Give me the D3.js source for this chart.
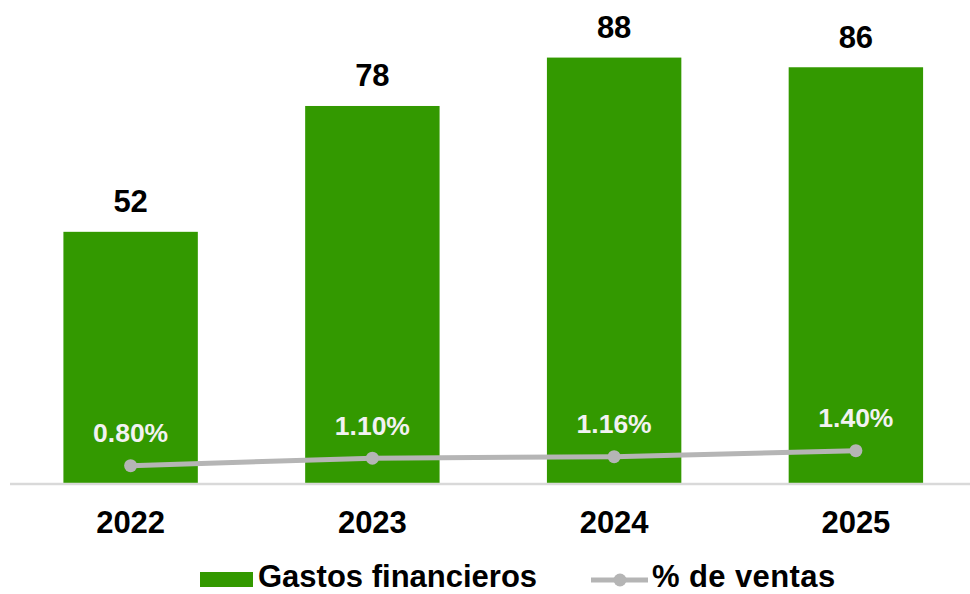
<!DOCTYPE html>
<html>
<head>
<meta charset="utf-8">
<script src="https://cdn.jsdelivr.net/npm/d3@7"></script>
<style>
  body { margin: 0; background: #fff; }
  svg text { font-family: "Liberation Sans", Arial, sans-serif; font-weight: bold; }
</style>
</head>
<body>
<div id="viz"></div>
<script>
// chart data
var years = ["2022", "2023", "2024", "2025"];
var gastos = [52, 78, 88, 86];
var pctVentas = [0.80, 1.10, 1.16, 1.40];
var legendLabels = ["Gastos financieros", "% de ventas"];

var width = 970,
    height = 594,
    baseline = 483.5;

var svg = d3.select("div#viz")
            .append("svg")
            .attr("width", width)
            .attr("height", height);

// x: bands for the years
var xScale = d3.scaleBand()
               .domain(years)
               .range([9.5, 977])
               .paddingInner(0.444)
               .paddingOuter(0.223);

// y for bars and y for the percentage line
var yScale = d3.scaleLinear().domain([0, 100]).range([baseline, baseline - 484]);
var pScale = d3.scaleLinear().domain([0, 10]).range([485.7, 235.7]);

var green = "#339900",
    grey = "#b5b5b5";

// bars
svg.selectAll("rect.bar")
   .data(gastos)
   .enter()
   .append("rect")
   .attr("class", "bar")
   .attr("x", function(d, i) { return xScale(years[i]); })
   .attr("y", function(d) { return yScale(d); })
   .attr("width", xScale.bandwidth())
   .attr("height", function(d) { return baseline - yScale(d); })
   .attr("fill", green);

// bar value labels
svg.selectAll("text.val")
   .data(gastos)
   .enter()
   .append("text")
   .attr("class", "val")
   .attr("x", function(d, i) { return xScale(years[i]) + xScale.bandwidth() / 2; })
   .attr("y", function(d) { return yScale(d) - 19.5; })
   .attr("text-anchor", "middle")
   .attr("font-size", 31)
   .attr("fill", "#000")
   .text(function(d) { return d; });

// x axis
var xAxis = d3.axisBottom(xScale).tickSize(0).tickPadding(0);
var gx = svg.append("g")
            .attr("class", "x axis")
            .attr("transform", "translate(0," + baseline + ")")
            .call(xAxis);
gx.select(".domain").attr("stroke", "#d9d9d9").attr("stroke-width", 2.5);
gx.selectAll("text")
  .attr("font-size", 31)
  .attr("font-family", "'Liberation Sans', Arial, sans-serif")
  .attr("fill", "#000")
  .attr("dy", null)
  .attr("y", 49.5);

// percentage line
var cx = function(d, i) { return xScale(years[i]) + xScale.bandwidth() / 2; };
var line = d3.line()
             .x(cx)
             .y(function(d) { return pScale(d); });

svg.append("path")
   .datum(pctVentas)
   .attr("d", line)
   .attr("fill", "none")
   .attr("stroke", grey)
   .attr("stroke-width", 5);

svg.selectAll("circle.pt")
   .data(pctVentas)
   .enter()
   .append("circle")
   .attr("class", "pt")
   .attr("cx", cx)
   .attr("cy", function(d) { return pScale(d); })
   .attr("r", 6.5)
   .attr("fill", grey);

svg.selectAll("text.pct")
   .data(pctVentas)
   .enter()
   .append("text")
   .attr("class", "pct")
   .attr("x", cx)
   .attr("y", function(d) { return pScale(d) - 23.5; })
   .attr("text-anchor", "middle")
   .attr("font-size", 26.5)
   .attr("fill", "#f2f2f2")
   .text(function(d) { return d.toFixed(2) + "%"; });

// legend
var legend = svg.append("g").attr("class", "legend");
legend.append("rect")
      .attr("x", 200).attr("y", 572)
      .attr("width", 53).attr("height", 15)
      .attr("fill", green);
legend.append("text")
      .attr("x", 258).attr("y", 587)
      .attr("font-size", 31)
      .attr("fill", "#000")
      .text(legendLabels[0]);
legend.append("line")
      .attr("x1", 591).attr("x2", 648)
      .attr("y1", 580).attr("y2", 580)
      .attr("stroke", grey).attr("stroke-width", 5);
legend.append("circle")
      .attr("cx", 620).attr("cy", 580).attr("r", 6.5)
      .attr("fill", grey);
legend.append("text")
      .attr("x", 652).attr("y", 587)
      .attr("font-size", 31)
      .attr("letter-spacing", 0.4)
      .attr("fill", "#000")
      .text(legendLabels[1]);
</script>
</body>
</html>
